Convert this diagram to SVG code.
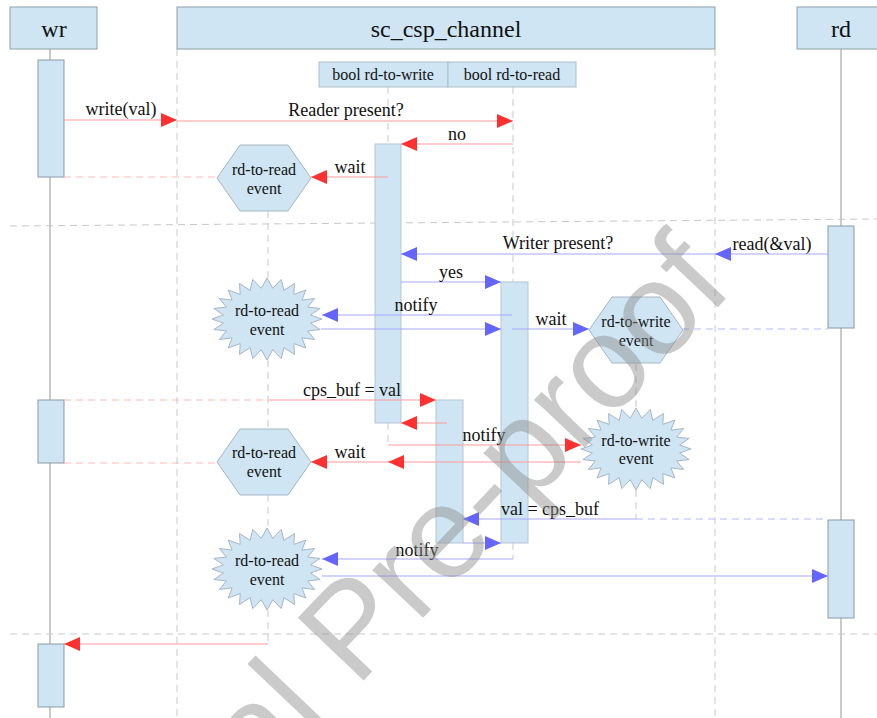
<svg xmlns="http://www.w3.org/2000/svg" width="877" height="718" viewBox="0 0 877 718">
  <style>
    .hdr { fill: #cfe5f3; stroke: #8fa0ab; stroke-width: 1; }
    .sub { fill: #cfe5f3; stroke: #aebfca; stroke-width: 1; }
    .bar { fill: #cfe5f3; stroke: #8a9aa6; stroke-width: 1; }
    .cbar { fill: #cfe5f3; stroke: #b3c5d1; stroke-width: 1; }
    .evt { fill: #cfe5f3; stroke: #a6b7c3; stroke-width: 1; }
    .life { stroke: #a8a8a8; stroke-width: 1.2; fill: none; }
    .dash { stroke: #c8c8c8; stroke-width: 1; stroke-dasharray: 7 5; fill: none; }
    .red { stroke: #ff9c9c; stroke-width: 1.2; fill: none; marker-end: url(#ahRed); }
    .redd { stroke: #ffb8b8; stroke-width: 1.2; fill: none; stroke-dasharray: 7 5; }
    .blue { stroke: #a8a8ff; stroke-width: 1.2; fill: none; marker-end: url(#ahBlue); }
    .blued { stroke: #b8b8ff; stroke-width: 1.2; fill: none; stroke-dasharray: 7 5; }
    .title { font-family: "Liberation Serif", serif; font-size: 24px; text-anchor: middle; fill: #111; }
    .lbl { font-family: "Liberation Serif", serif; font-size: 18px; text-anchor: middle; fill: #111; }
    .small { font-family: "Liberation Serif", serif; font-size: 16px; text-anchor: middle; fill: #111; }
    .mark { font-family: "Liberation Sans", sans-serif; font-size: 132px; fill: #8a8a8a; fill-opacity: 0.45; }
  </style>
  <defs>
    <marker id="ahRed" markerUnits="userSpaceOnUse" markerWidth="16" markerHeight="14" refX="16" refY="7" orient="auto">
      <path d="M0,0 L16,7 L0,14 Z" fill="#ff3030"/>
    </marker>
    <marker id="ahBlue" markerUnits="userSpaceOnUse" markerWidth="16" markerHeight="14" refX="16" refY="7" orient="auto">
      <path d="M0,0 L16,7 L0,14 Z" fill="#6464ff"/>
    </marker>
    <polygon id="hex" points="-47,0 -24,-33 24,-33 47,0 24,33 -24,33"/>
    <polygon id="burst" points="55,0 43.62,4.05 53.13,10.61 40.65,11.86 47.63,20.5 34.91,18.87 38.89,28.99 26.79,24.59 27.5,35.51 16.84,28.64 14.24,39.6 5.74,30.73 0,41 -5.74,30.73 -14.24,39.6 -16.84,28.64 -27.5,35.51 -26.79,24.59 -38.89,28.99 -34.91,18.87 -47.63,20.5 -40.65,11.86 -53.13,10.61 -43.62,4.05 -55,0 -43.62,-4.05 -53.13,-10.61 -40.65,-11.86 -47.63,-20.5 -34.91,-18.87 -38.89,-28.99 -26.79,-24.59 -27.5,-35.51 -16.84,-28.64 -14.24,-39.6 -5.74,-30.73 0,-41 5.74,-30.73 14.24,-39.6 16.84,-28.64 27.5,-35.51 26.79,-24.59 38.89,-28.99 34.91,-18.87 47.63,-20.5 40.65,-11.86 53.13,-10.61 43.62,-4.05"/>
  </defs>

  <!-- lifelines, channel boundaries and phase separators -->
  <g id="guides">
    <path class="life" d="M50,49 V718 M841,49 V718"/>
    <path class="dash" d="M177,49 V718 M715,49 V718"/>
    <path class="dash" d="M388,87 V144 M388,423 V445"/>
    <path class="dash" d="M513,87 V282 M513,543 V559"/>
    <path class="dash" d="M268,211 V278 M268,360 V428 M268,495 V528 M268,610 V644"/>
    <path class="dash" d="M636,364 V408 M636,490 V519"/>
    <path class="dash" d="M10,226 L877,219 M10,634 H877"/>
  </g>

  <!-- participants -->
  <g id="wr">
    <rect class="hdr" x="10" y="7" width="87" height="42"/>
    <text class="title" x="54" y="37" font-family="Liberation Serif, serif">wr</text>
  </g>
  <g id="channel">
    <rect class="hdr" x="177" y="7" width="538" height="42"/>
    <text class="title" x="446" y="37" font-family="Liberation Serif, serif">sc_csp_channel</text>
  </g>
  <g id="rd">
    <rect class="hdr" x="797" y="7" width="84" height="42"/>
    <text class="title" x="841" y="37" font-family="Liberation Serif, serif">rd</text>
  </g>
  <g id="flag-write">
    <rect class="sub" x="319" y="62" width="129" height="25"/>
    <text class="small" x="383" y="80" font-family="Liberation Serif, serif">bool rd-to-write</text>
  </g>
  <g id="flag-read">
    <rect class="sub" x="448" y="62" width="128" height="25"/>
    <text class="small" x="512" y="80" font-family="Liberation Serif, serif">bool rd-to-read</text>
  </g>

  <!-- activation bars -->
  <g id="wr-act1"><rect class="bar" x="38" y="60" width="26" height="117"/></g>
  <g id="wr-act2"><rect class="bar" x="38" y="400" width="26" height="63"/></g>
  <g id="wr-act3"><rect class="bar" x="38" y="644" width="26" height="63"/></g>
  <g id="rd-act1"><rect class="bar" x="828" y="226" width="26" height="102"/></g>
  <g id="rd-act2"><rect class="bar" x="828" y="520" width="26" height="98"/></g>
  <g id="ch-act1"><rect class="cbar" x="375" y="144" width="26" height="279"/></g>
  <g id="ch-act2"><rect class="cbar" x="501" y="282" width="27" height="261"/></g>
  <g id="ch-act3"><rect class="cbar" x="436" y="400" width="27" height="143"/></g>

  <!-- events -->
  <g id="events" font-family="Liberation Serif, serif">
    <g id="ev-read-wait1">
      <use href="#hex" class="evt" x="264" y="178"/>
      <text class="small" x="264" y="175">rd-to-read</text>
      <text class="small" x="264" y="194">event</text>
    </g>
    <g id="ev-read-notify1">
      <use href="#burst" class="evt" x="267" y="319"/>
      <text class="small" x="267" y="316">rd-to-read</text>
      <text class="small" x="267" y="335">event</text>
    </g>
    <g id="ev-write-wait">
      <use href="#hex" class="evt" x="636" y="330"/>
      <text class="small" x="636" y="327">rd-to-write</text>
      <text class="small" x="636" y="346">event</text>
    </g>
    <g id="ev-write-notify">
      <use href="#burst" class="evt" x="636" y="449"/>
      <text class="small" x="636" y="446">rd-to-write</text>
      <text class="small" x="636" y="464">event</text>
    </g>
    <g id="ev-read-wait2">
      <use href="#hex" class="evt" x="264" y="462"/>
      <text class="small" x="264" y="458">rd-to-read</text>
      <text class="small" x="264" y="477">event</text>
    </g>
    <g id="ev-read-notify2">
      <use href="#burst" class="evt" x="267" y="569"/>
      <text class="small" x="267" y="566">rd-to-read</text>
      <text class="small" x="267" y="585">event</text>
    </g>
  </g>

  <!-- messages -->
  <g id="connectors">
    <path class="red" d="M64,120 H177"/>
    <path class="red" d="M177,121 H513"/>
    <path class="red" d="M513,144 H401"/>
    <path class="red" d="M388,177 H311"/>
    <path class="redd" d="M64,177 H217"/>

    <path class="blue" d="M828,254 H715"/>
    <path class="blue" d="M715,254 H401"/>
    <path class="blue" d="M401,282 H501"/>
    <path class="blue" d="M512,315 H322"/>
    <path class="blue" d="M321,329 H501"/>
    <path class="blue" d="M512,329 H589"/>
    <path class="blued" d="M682,329 H828"/>

    <path class="redd" d="M64,400 H268"/>
    <path class="red" d="M268,400 H436"/>
    <path class="red" d="M447,423 H401"/>
    <path class="red" d="M388,445 H581"/>
    <path class="red" d="M581,462 H388"/>
    <path class="red" d="M388,462 H311"/>
    <path class="redd" d="M64,463 H217"/>

    <path class="blue" d="M636,519 H463"/>
    <path class="blued" d="M636,519 H828"/>
    <path class="blue" d="M463,543 H501"/>
    <path class="blue" d="M513,559 H322"/>
    <path class="blue" d="M322,576 H828"/>

    <path class="red" d="M268,644 H64"/>
  </g>

  <!-- message labels -->
  <g id="labels" font-family="Liberation Serif, serif">
    <text class="lbl" x="121" y="115">write(val)</text>
    <text class="lbl" x="346" y="116">Reader present?</text>
    <text class="lbl" x="457" y="140">no</text>
    <text class="lbl" x="350" y="173">wait</text>
    <text class="lbl" x="558" y="249">Writer present?</text>
    <text class="lbl" x="772" y="250">read(&amp;val)</text>
    <text class="lbl" x="451" y="278">yes</text>
    <text class="lbl" x="416" y="311">notify</text>
    <text class="lbl" x="551" y="325">wait</text>
    <text class="lbl" x="352" y="396">cps_buf = val</text>
    <text class="lbl" x="484" y="441">notify</text>
    <text class="lbl" x="350" y="458">wait</text>
    <text class="lbl" x="550" y="515">val = cps_buf</text>
    <text class="lbl" x="417" y="556">notify</text>
  </g>

  <!-- status stamp across the page -->
  <text class="mark" transform="translate(33,1029) rotate(-46.5)">Journal Pre-proof</text>
</svg>
